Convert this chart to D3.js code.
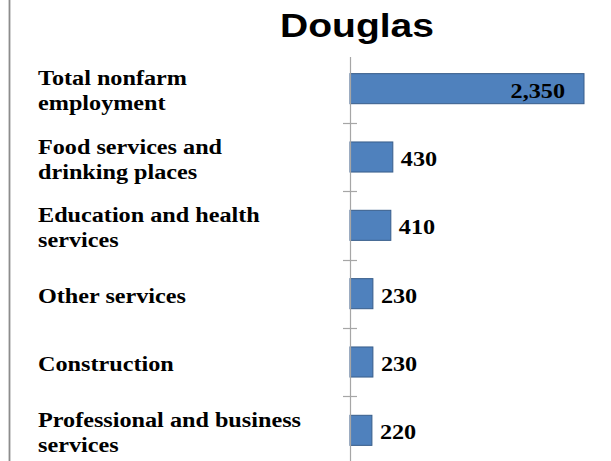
<!DOCTYPE html>
<html><head><meta charset="utf-8">
<script src="https://cdn.jsdelivr.net/npm/d3@7"></script>
<style>html,body{margin:0;padding:0;background:#fff;}svg{display:block;}</style>
</head><body>
<svg id="chart" width="611" height="461"></svg>
<script>
const title = "Douglas";
const categories = [
  "Total nonfarm\nemployment",
  "Food services and\ndrinking places",
  "Education and health\nservices",
  "Other services",
  "Construction",
  "Professional and business\nservices"
];
const values = [2350, 430, 410, 230, 230, 220];

const svg = d3.select("#chart");
const W = 611, H = 461;
const x0 = 350;
const stretch = 1.1;

const x = d3.scaleLinear().domain([0, 2350]).range([x0, 584]);
const y = d3.scaleBand().domain(categories).range([54.5, 464.5])
  .paddingInner(0.56).paddingOuter(0.28);

// left border
svg.append("line").attr("x1", 9.5).attr("x2", 9.5).attr("y1", 0).attr("y2", H)
  .attr("stroke", "#8c8c8c").attr("stroke-width", 1.8);

// title
svg.append("text").attr("x", 357).attr("y", 37).attr("text-anchor", "middle")
  .attr("font-family", "Liberation Sans, Arial, sans-serif").attr("font-weight", "bold")
  .attr("font-size", 33).attr("textLength", 154).attr("lengthAdjust", "spacingAndGlyphs")
  .attr("fill", "#000").text(title);

// bars
svg.selectAll("rect.bar").data(categories).enter().append("rect")
  .attr("class", "bar")
  .attr("x", x(0))
  .attr("y", d => y(d))
  .attr("width", (d, i) => x(values[i]) - x(0))
  .attr("height", y.bandwidth())
  .attr("fill", "#4f81bd").attr("stroke", "#385d8a").attr("stroke-width", 1);

// axis line and boundary ticks
const step = y.step();
svg.append("line").attr("x1", x0 + 0.5).attr("x2", x0 + 0.5).attr("y1", 57).attr("y2", H)
  .attr("stroke", "#a6a6a6").attr("stroke-width", 1.2);
categories.slice(1).forEach(c => {
  const ty = Math.round(y(c) - (step - y.bandwidth()) / 2) + 0.5;
  svg.append("line").attr("x1", x0 - 7).attr("x2", x0 + 7).attr("y1", ty).attr("y2", ty)
    .attr("stroke", "#a6a6a6").attr("stroke-width", 1.2);
});

// category labels
const fmt = d3.format(",");
categories.forEach(c => {
  const lines = c.split("\n");
  const cy = y(c) + y.bandwidth() / 2;
  const lh = 25;
  const t = svg.append("text")
    .attr("transform", `translate(38,${cy + 9}) scale(${stretch},1)`)
    .attr("font-family", "Liberation Serif, Cambria, serif")
    .attr("font-weight", "bold").attr("font-size", 22).attr("fill", "#000");
  lines.forEach((ln, i) => {
    t.append("tspan").attr("x", 0)
      .attr("y", (i - (lines.length - 1) / 2) * lh).text(ln);
  });
});

// value labels
categories.forEach((c, i) => {
  const v = values[i];
  const inside = x(v) - x(0) > 150;
  const tx = inside ? x(v) - 19 : x(v) + 8;
  svg.append("text")
    .attr("transform", `translate(${tx},${y(c) + y.bandwidth() / 2 + 9}) scale(${stretch},1)`)
    .attr("text-anchor", inside ? "end" : "start")
    .attr("font-family", "Liberation Serif, Cambria, serif")
    .attr("font-weight", "bold").attr("font-size", 22).attr("fill", "#000")
    .text(fmt(v));
});
</script>
</body></html>
